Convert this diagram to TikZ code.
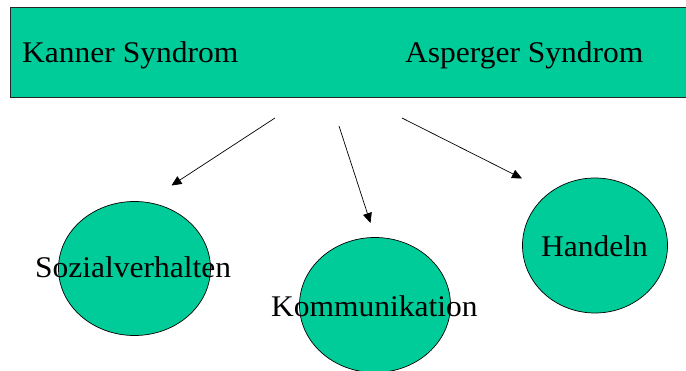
\documentclass[tikz,border=0pt]{standalone}
\usepackage{fontspec}
\setmainfont{Liberation Serif}
\usetikzlibrary{shapes.geometric,arrows.meta}
\definecolor{green1}{HTML}{00CC99}
\tikzset{
  box/.style={draw=black!85, line width=0.8pt, fill=green1},
  blob/.style={draw=black, line width=0.7pt, fill=green1, ellipse, inner sep=0pt},
  lbl/.style={anchor=base west, inner sep=0pt, font=\fontsize{30}{36}\selectfont},
  arr/.style={line width=0.7pt, -{Triangle[length=10pt,width=9pt]}}
}
\newcommand{\widetxt}[1]{\scalebox{1.05}[1]{#1}}
\begin{document}
\begin{tikzpicture}[x=1pt,y=-1pt]
\useasboundingbox (0,0) rectangle (686,371);
\clip (0,0) rectangle (686,371);
\node[box, minimum width=690pt, minimum height=90pt, anchor=north west, inner sep=0pt] (top) at (10,7) {};
\node[lbl] (kanner) at (22,63) {\widetxt{Kanner Syndrom}};
\node[lbl] (asperger) at (405,63) {\widetxt{Asperger Syndrom}};
\node[blob, minimum width=152pt, minimum height=134pt] (sozial) at (134.5,268.5) {};
\node[blob, minimum width=151pt, minimum height=135pt] (komm) at (375,305) {};
\node[blob, minimum width=145pt, minimum height=135pt] (hand) at (595,245.5) {};
\node[lbl] (tsozial) at (35,278) {\widetxt{Sozialverhalten}};
\node[lbl] (tkomm) at (271,317) {\widetxt{Kommunikation}};
\node[lbl] (thand) at (541,257) {\widetxt{Handeln}};
\coordinate (a1s) at (275,118);
\coordinate (a1e) at (171.5,185.5);
\coordinate (a2s) at (339,126);
\coordinate (a2e) at (370.5,223);
\coordinate (a3s) at (402,118);
\coordinate (a3e) at (522,178.5);
\draw[arr] (a1s) -- (a1e);
\draw[arr] (a2s) -- (a2e);
\draw[arr] (a3s) -- (a3e);
\end{tikzpicture}
\end{document}
